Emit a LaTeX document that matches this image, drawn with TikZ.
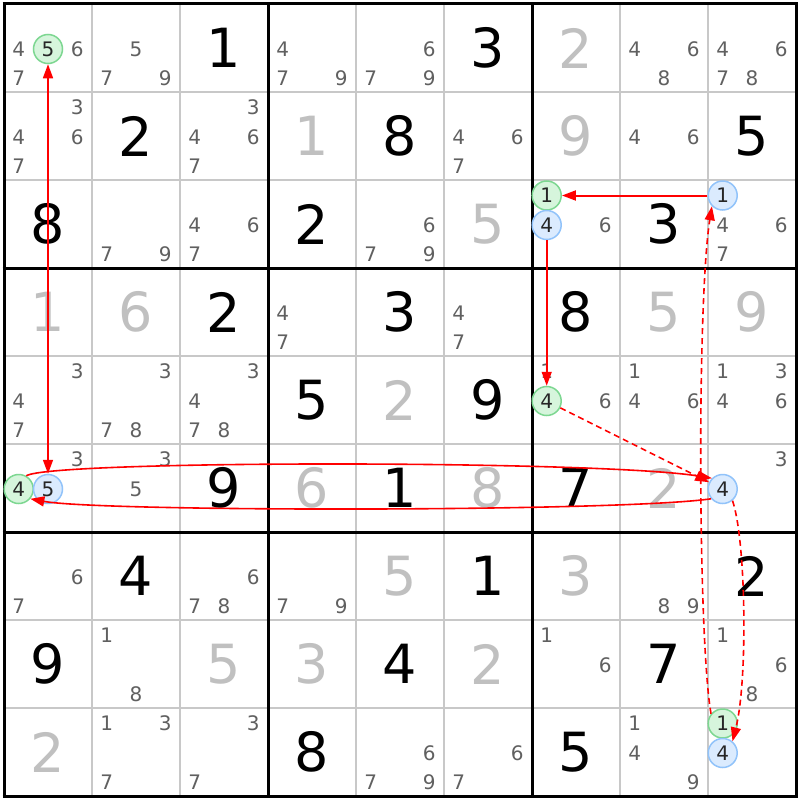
\documentclass[tikz,border=0pt]{standalone}
\usepackage{fontspec}
\setmainfont{DejaVu Sans}
\usetikzlibrary{arrows.meta}
\definecolor{candgray}{RGB}{96,96,96}
\definecolor{solvedgray}{RGB}{192,192,192}
\definecolor{gridgray}{RGB}{200,200,200}
\definecolor{gfill}{RGB}{214,245,220}
\definecolor{gline}{RGB}{125,215,145}
\definecolor{bfill}{RGB}{219,235,254}
\definecolor{bline}{RGB}{145,195,250}
\tikzset{
 given/.style={inner sep=0pt, font=\fontsize{54}{54}\selectfont, text=black},
 solved/.style={given, text=solvedgray},
 cand/.style={inner sep=0pt, font=\fontsize{20}{20}\selectfont, text=candgray},
 gcirc/.style={circle, draw=gline, fill=gfill, line width=1.5pt, minimum size=29pt, inner sep=0pt, font=\fontsize{20}{20}\selectfont, text=black!85},
 bcirc/.style={gcirc, draw=bline, fill=bfill},
 link/.style={red, line width=1.6pt, -{Triangle[length=14pt,width=10pt]}},
 weaklink/.style={link, dash pattern=on 6pt off 4pt},
 thin grid/.style={gridgray, line width=1.5pt},
 thick grid/.style={black, line width=3pt},
}
\newcommand\gvv[3]{\node[given] (v#1#2) at ({48+88*(#2-1)},{48+88*(#1-1)}) {#3};}
\newcommand\svv[3]{\node[solved] (v#1#2) at ({48+88*(#2-1)},{48+88*(#1-1)}) {#3};}
\newcommand\cnn[3]{\node[cand] (k#1#2#3) at ({48+88*(#2-1)+29.3*(mod(#3-1,3)-1)},{48+88*(#1-1)+1+29.5*(floor((#3-1)/3)-1)}) {#3};}
\newcommand\ccc[4]{\node[#4] (r#1c#2n#3) at ({48+88*(#2-1)+29.3*(mod(#3-1,3)-1)},{48+88*(#1-1)+1+29.5*(floor((#3-1)/3)-1)}) {#3};}
\begin{document}
\begin{tikzpicture}[x=1pt,y=-1pt]
\useasboundingbox (0,0) rectangle (800,800);
\fill[white] (0,0) rectangle (800,800);
% grid
\foreach \i in {1,2,4,5,7,8} {
  \draw[thin grid] ({4+88*\i},4) -- ({4+88*\i},796);
  \draw[thin grid] (4,{4+88*\i}) -- (796,{4+88*\i});
}
\foreach \i in {0,3,6,9} {
  \draw[thick grid] ({4+88*\i},2.5) -- ({4+88*\i},797.5);
  \draw[thick grid] (2.5,{4+88*\i}) -- (797.5,{4+88*\i});
}
% row 1
\cnn{1}{1}{4}\ccc{1}{1}{5}{gcirc}\cnn{1}{1}{6}\cnn{1}{1}{7}
\cnn{1}{2}{5}\cnn{1}{2}{7}\cnn{1}{2}{9}
\gvv{1}{3}{1}
\cnn{1}{4}{4}\cnn{1}{4}{7}\cnn{1}{4}{9}
\cnn{1}{5}{6}\cnn{1}{5}{7}\cnn{1}{5}{9}
\gvv{1}{6}{3}
\svv{1}{7}{2}
\cnn{1}{8}{4}\cnn{1}{8}{6}\cnn{1}{8}{8}
\cnn{1}{9}{4}\cnn{1}{9}{6}\cnn{1}{9}{7}\cnn{1}{9}{8}
% row 2
\cnn{2}{1}{3}\cnn{2}{1}{4}\cnn{2}{1}{6}\cnn{2}{1}{7}
\gvv{2}{2}{2}
\cnn{2}{3}{3}\cnn{2}{3}{4}\cnn{2}{3}{6}\cnn{2}{3}{7}
\svv{2}{4}{1}
\gvv{2}{5}{8}
\cnn{2}{6}{4}\cnn{2}{6}{6}\cnn{2}{6}{7}
\svv{2}{7}{9}
\cnn{2}{8}{4}\cnn{2}{8}{6}
\gvv{2}{9}{5}
% row 3
\gvv{3}{1}{8}
\cnn{3}{2}{7}\cnn{3}{2}{9}
\cnn{3}{3}{4}\cnn{3}{3}{6}\cnn{3}{3}{7}
\gvv{3}{4}{2}
\cnn{3}{5}{6}\cnn{3}{5}{7}\cnn{3}{5}{9}
\svv{3}{6}{5}
\ccc{3}{7}{1}{gcirc}\ccc{3}{7}{4}{bcirc}\cnn{3}{7}{6}
\gvv{3}{8}{3}
\ccc{3}{9}{1}{bcirc}\cnn{3}{9}{4}\cnn{3}{9}{6}\cnn{3}{9}{7}
% row 4
\svv{4}{1}{1}\svv{4}{2}{6}\gvv{4}{3}{2}
\cnn{4}{4}{4}\cnn{4}{4}{7}
\gvv{4}{5}{3}
\cnn{4}{6}{4}\cnn{4}{6}{7}
\gvv{4}{7}{8}\svv{4}{8}{5}\svv{4}{9}{9}
% row 5
\cnn{5}{1}{3}\cnn{5}{1}{4}\cnn{5}{1}{7}
\cnn{5}{2}{3}\cnn{5}{2}{7}\cnn{5}{2}{8}
\cnn{5}{3}{3}\cnn{5}{3}{4}\cnn{5}{3}{7}\cnn{5}{3}{8}
\gvv{5}{4}{5}\svv{5}{5}{2}\gvv{5}{6}{9}
\cnn{5}{7}{1}\ccc{5}{7}{4}{gcirc}\cnn{5}{7}{6}
\cnn{5}{8}{1}\cnn{5}{8}{4}\cnn{5}{8}{6}
\cnn{5}{9}{1}\cnn{5}{9}{3}\cnn{5}{9}{4}\cnn{5}{9}{6}
% row 6
\cnn{6}{1}{3}\ccc{6}{1}{4}{gcirc}\ccc{6}{1}{5}{bcirc}
\cnn{6}{2}{3}\cnn{6}{2}{5}
\gvv{6}{3}{9}\svv{6}{4}{6}\gvv{6}{5}{1}\svv{6}{6}{8}\gvv{6}{7}{7}\svv{6}{8}{2}
\cnn{6}{9}{3}\ccc{6}{9}{4}{bcirc}
% row 7
\cnn{7}{1}{6}\cnn{7}{1}{7}
\gvv{7}{2}{4}
\cnn{7}{3}{6}\cnn{7}{3}{7}\cnn{7}{3}{8}
\cnn{7}{4}{7}\cnn{7}{4}{9}
\svv{7}{5}{5}\gvv{7}{6}{1}\svv{7}{7}{3}
\cnn{7}{8}{8}\cnn{7}{8}{9}
\gvv{7}{9}{2}
% row 8
\gvv{8}{1}{9}
\cnn{8}{2}{1}\cnn{8}{2}{8}
\svv{8}{3}{5}\svv{8}{4}{3}\gvv{8}{5}{4}\svv{8}{6}{2}
\cnn{8}{7}{1}\cnn{8}{7}{6}
\gvv{8}{8}{7}
\cnn{8}{9}{1}\cnn{8}{9}{6}\cnn{8}{9}{8}
% row 9
\svv{9}{1}{2}
\cnn{9}{2}{1}\cnn{9}{2}{3}\cnn{9}{2}{7}
\cnn{9}{3}{3}\cnn{9}{3}{7}
\gvv{9}{4}{8}
\cnn{9}{5}{6}\cnn{9}{5}{7}\cnn{9}{5}{9}
\cnn{9}{6}{6}\cnn{9}{6}{7}
\gvv{9}{7}{5}
\cnn{9}{8}{1}\cnn{9}{8}{4}\cnn{9}{8}{9}
\ccc{9}{9}{1}{gcirc}\ccc{9}{9}{4}{bcirc}
% links
\draw[red, line width=1.6pt, {Triangle[length=14pt,width=10pt]}-{Triangle[length=14pt,width=10pt]}] (r6c1n5) -- (r1c1n5);
\draw[link, line width=2pt] (r3c9n1) -- (r3c7n1);
\draw[link] (r3c7n4) -- (r5c7n4);
\draw[weaklink] (r5c7n4) -- (r6c9n4);
\draw[link] (r6c1n4.60) .. controls (50,460) and (600,460) .. (r6c9n4.135);
\draw[link] (r6c9n4.220) .. controls (620,512) and (100,512) .. (r6c1n4.320);
\draw[weaklink] (r6c9n4.310) .. controls (746,540) and (748,680) .. (r9c9n4.50);
\draw[weaklink] (r9c9n1.140) .. controls (698,640) and (697,300) .. (r3c9n1.225);
\end{tikzpicture}
\end{document}
